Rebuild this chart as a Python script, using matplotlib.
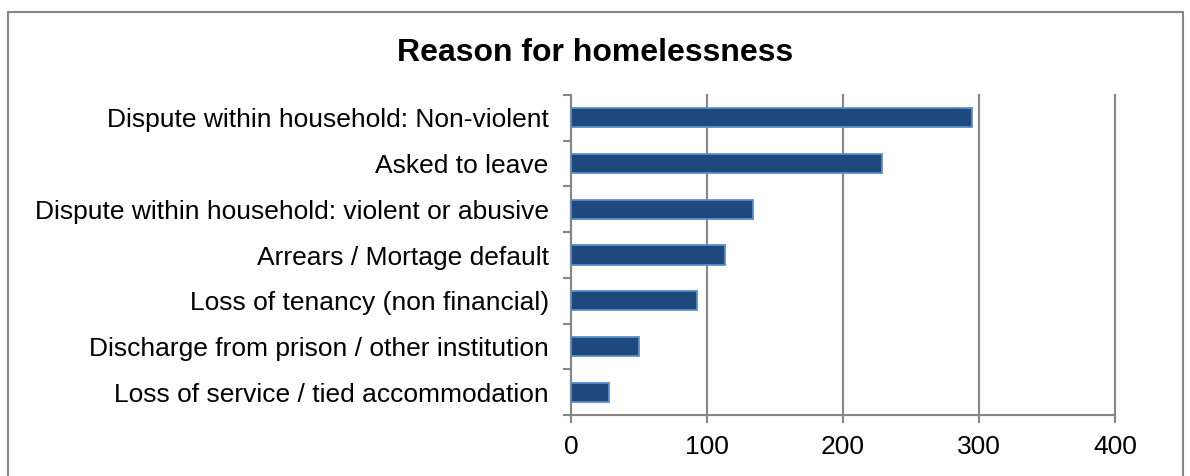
import matplotlib.pyplot as plt
from matplotlib.patches import Rectangle

plt.rcParams['font.family'] = ['Liberation Sans', 'DejaVu Sans']

# Data
reasons = [
    "Dispute within household: Non-violent",
    "Asked to leave",
    "Dispute within household: violent or abusive",
    "Arrears / Mortage default",
    "Loss of tenancy (non financial)",
    "Discharge from prison / other institution",
    "Loss of service / tied accommodation",
]
counts = [295, 229, 134, 113, 93, 50, 28]
xticks = [0, 100, 200, 300, 400]

fig = plt.figure(figsize=(11.9, 4.76), dpi=100)
ax = fig.add_axes([0.4798, 0.128, 0.937 - 0.4798, 0.8004 - 0.128])

# Outer chart frame
fig.patches.append(Rectangle((8 / 1190, -0.05), (1183 - 8) / 1190, 1.05 - 12 / 476,
                             transform=fig.transFigure, fill=False,
                             edgecolor='#868686', linewidth=1.5, clip_on=False))

ypos = list(range(len(reasons)))[::-1]
ax.barh(ypos, counts, height=0.42, color='#1F497D', edgecolor='#5B8FCB',
        linewidth=1.3, zorder=3)

ax.set_xlim(0, 400)
ax.set_ylim(-0.5, len(reasons) - 0.5)
ax.set_xticks(xticks)
ax.set_xticklabels([str(t) for t in xticks], fontsize=19)
ax.set_yticks(ypos)
ax.set_yticklabels(reasons, fontsize=19)

# category tick marks sit between the bars
ax.set_yticks([y - 0.5 for y in range(len(reasons) + 1)], minor=True)
ax.tick_params(axis='y', which='major', length=0, pad=16)
ax.tick_params(axis='y', which='minor', length=6, width=1.5, color='#868686')
ax.tick_params(axis='x', length=6, width=1.5, color='#868686', pad=8)

ax.grid(axis='x', color='#868686', linewidth=1.5, zorder=0)
for line in ax.get_xgridlines():
    line.set_clip_on(False)
for side in ['top', 'right']:
    ax.spines[side].set_visible(False)
for side in ['left', 'bottom']:
    ax.spines[side].set_color('#868686')
    ax.spines[side].set_linewidth(1.5)

fig.text(0.5, 0.888, "Reason for homelessness", ha='center', va='center',
         fontsize=23, fontweight='bold')

fig.savefig('out.png', dpi=100)
